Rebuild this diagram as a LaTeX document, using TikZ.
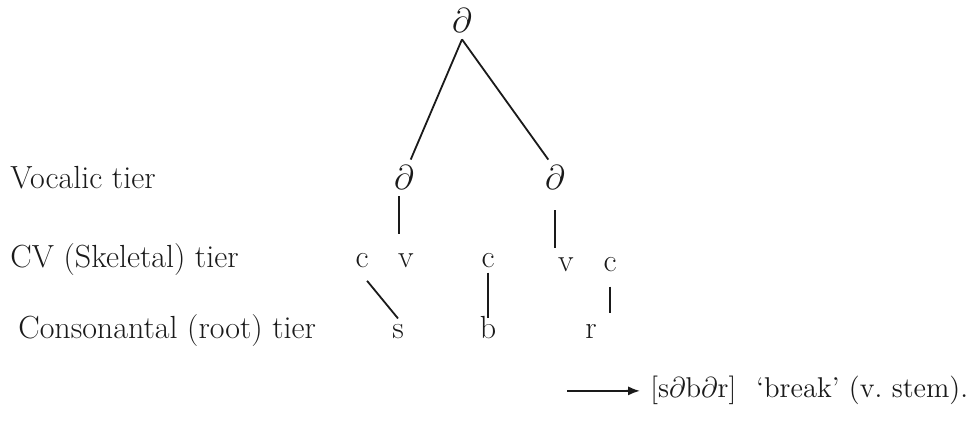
\documentclass[tikz,border=0pt]{standalone}
\usepackage{tikz}
\usetikzlibrary{arrows.meta}
\definecolor{tierInk}{HTML}{1A1A1A}
\tikzset{
  every picture/.style={font=\fontsize{16}{19}\selectfont, text=tierInk},
  tier label/.style={anchor=base west, inner sep=0pt},
  seg/.style={anchor=base, inner sep=3pt},
  assoc/.style={draw=tierInk, line width=0.9pt},
  deriv arrow/.style={-{Latex[length=6pt,width=4.6pt]},
    draw=tierInk, line width=0.9pt}
}

\begin{document}
\begin{tikzpicture}[x=0.5pt,y=-0.5pt]
  \useasboundingbox (0,0) rectangle (974,432);
  % tier names
  \node[tier label] (vocTier) at (10,189) {Vocalic tier};
  \node[tier label] (cvTier) at (10,268) {CV (Skeletal) tier};
  \node[tier label] (rootTier) at (18,339) {Consonantal (root) tier};
  % vocalic tier
  \node[seg] (top) at (462,33) {$\partial$};
  \node[seg] (vocL) at (404,190) {$\partial$};
  \node[seg] (vocR) at (555,190) {$\partial$};
  % skeletal tier
  \node[seg] (c1) at (362,268) {c};
  \node[seg] (v1) at (406,268) {v};
  \node[seg] (c2) at (488,268) {c};
  \node[seg] (v2) at (566,272) {v};
  \node[seg] (c3) at (610,272) {c};
  % root tier
  \node[seg] (s) at (398,339) {s};
  \node[seg] (b) at (488,339) {b};
  \node[seg] (r) at (591,339) {r};
  % association lines
  \draw[assoc] (top.south) -- (vocL.70);
  \draw[assoc] (top.south) -- (vocR.110);
  \draw[assoc,shorten >=7pt] (vocL.south) ++(-5,0) coordinate (vLtop) -- (vLtop |- v1.north);
  \draw[assoc,shorten <=7pt,shorten >=2pt] (vocR.south) -- (vocR.south |- v2.north);
  \draw[assoc,shorten <=4pt] (c1.south) -- (s.north);
  \draw[assoc,shorten <=-1pt,shorten >=-4pt] (c2.south) -- (b.north);
  \draw[assoc,shorten <=4pt,shorten >=3pt] (c3.south) -- (c3.south |- r.north);
  % surface form
  \coordinate (arrowTail) at (567,391);
  \node[anchor=base west, inner sep=1pt, font=\fontsize{14.3}{17}\selectfont]
    (surface) at (648,398)
    {[s$\partial$b$\partial$r]\hspace{0.7em}`break' (v.\ stem).};
  \draw[deriv arrow,shorten >=4pt] (arrowTail) -- (surface.west);
\end{tikzpicture}
\end{document}
